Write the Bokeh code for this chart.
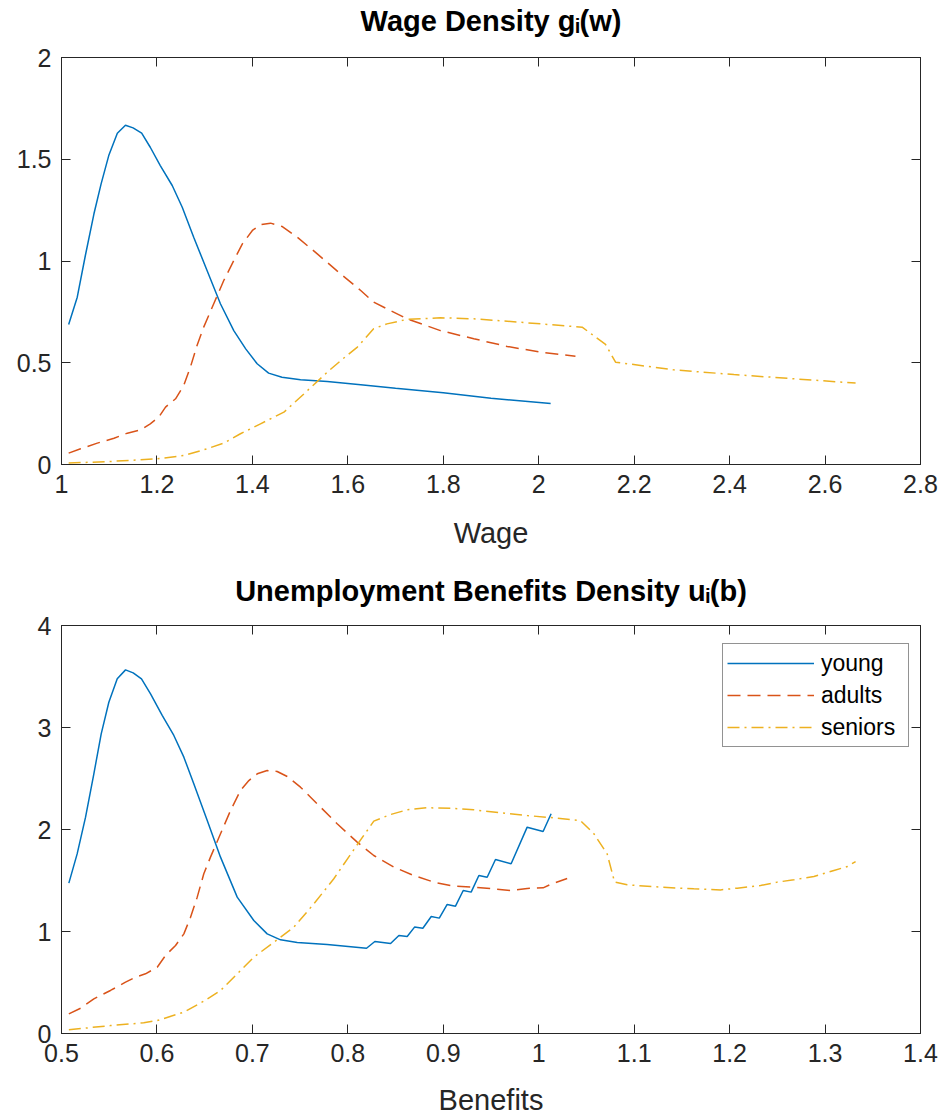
from bokeh.plotting import figure
from bokeh.models import Range1d, LinearAxis, FixedTicker, Legend, LegendItem
from bokeh.layouts import column
from bokeh.embed import file_html
from bokeh.resources import INLINE

# ---------------- data ----------------
wage_young_x = [1.015, 1.033, 1.050, 1.068, 1.083, 1.099, 1.117, 1.134, 1.150, 1.168, 1.186, 1.207,
                1.232, 1.253, 1.277, 1.305, 1.333, 1.361, 1.386, 1.410, 1.434, 1.462, 1.501, 1.557,
                1.627, 1.700, 1.800, 1.900, 2.025]
wage_young_y = [0.688, 0.822, 1.027, 1.232, 1.379, 1.518, 1.628, 1.667, 1.654, 1.628, 1.559, 1.469,
                1.371, 1.264, 1.117, 0.953, 0.790, 0.658, 0.568, 0.495, 0.449, 0.429, 0.416, 0.408,
                0.392, 0.375, 0.352, 0.325, 0.300]

wage_adults_x = [1.015, 1.040, 1.075, 1.110, 1.138, 1.166, 1.186, 1.204, 1.218, 1.239, 1.256, 1.270,
                 1.284, 1.298, 1.319, 1.340, 1.361, 1.379, 1.400, 1.417, 1.438, 1.462, 1.494, 1.536,
                 1.578, 1.627, 1.654, 1.724, 1.794, 1.864, 1.934, 2.004, 2.077]
wage_adults_y = [0.056, 0.077, 0.105, 0.129, 0.154, 0.170, 0.200, 0.233, 0.282, 0.323, 0.388, 0.478,
                 0.585, 0.675, 0.790, 0.904, 1.002, 1.084, 1.150, 1.179, 1.186, 1.170, 1.117, 1.035,
                 0.950, 0.855, 0.798, 0.716, 0.658, 0.618, 0.580, 0.552, 0.532]

wage_seniors_x = [1.015, 1.103, 1.200, 1.256, 1.298, 1.340, 1.375, 1.417, 1.466, 1.508, 1.557, 1.590,
                  1.620, 1.654, 1.682, 1.724, 1.794, 1.864, 1.934, 2.004, 2.091, 2.140, 2.161, 2.283,
                  2.409, 2.664]
wage_seniors_y = [0.007, 0.015, 0.028, 0.044, 0.072, 0.105, 0.151, 0.200, 0.257, 0.347, 0.454, 0.520,
                  0.577, 0.667, 0.691, 0.713, 0.721, 0.716, 0.704, 0.691, 0.675, 0.590, 0.503, 0.465,
                  0.442, 0.400]

ben_young_x = [0.5077, 0.5164, 0.5252, 0.5339, 0.5416, 0.5496, 0.5584, 0.5671, 0.5751, 0.5838, 0.5933,
               0.6055, 0.6177, 0.6282, 0.6386, 0.6527, 0.6666, 0.6841, 0.7015, 0.7155, 0.7295, 0.7470,
               0.7784, 0.8196, 0.8283, 0.8448, 0.8535, 0.8622, 0.8699, 0.8786, 0.8874, 0.8958, 0.9041,
               0.9128, 0.9209, 0.9292, 0.9373, 0.9460, 0.9547, 0.9711, 0.9879, 1.0046, 1.0130]
ben_young_y = [1.474, 1.761, 2.121, 2.546, 2.938, 3.248, 3.477, 3.565, 3.536, 3.477, 3.330,
               3.118, 2.922, 2.709, 2.448, 2.088, 1.729, 1.337, 1.108, 0.977, 0.918, 0.892,
               0.873, 0.836, 0.902, 0.882, 0.961, 0.951, 1.043, 1.032, 1.147, 1.131, 1.265,
               1.248, 1.402, 1.386, 1.549, 1.532, 1.706, 1.664, 2.023, 1.980, 2.154]

ben_adults_x = [0.5077, 0.5200, 0.5339, 0.5513, 0.5671, 0.5775, 0.5880, 0.6003, 0.6090, 0.6195, 0.6282,
                0.6352, 0.6422, 0.6491, 0.6561, 0.6666, 0.6771, 0.6875, 0.6963, 0.7051, 0.7155, 0.7260,
                0.7365, 0.7504, 0.7679, 0.7888, 0.8098, 0.8272, 0.8482, 0.8691, 0.8900, 0.9110, 0.9320,
                0.9529, 0.9704, 0.9879, 1.0046, 1.0123, 1.0298]
ben_adults_y = [0.193, 0.248, 0.340, 0.422, 0.503, 0.552, 0.585, 0.650, 0.765, 0.863, 0.977,
                1.140, 1.337, 1.566, 1.729, 1.958, 2.186, 2.382, 2.480, 2.546, 2.578, 2.569,
                2.520, 2.415, 2.252, 2.056, 1.876, 1.745, 1.631, 1.549, 1.484, 1.444, 1.435,
                1.418, 1.402, 1.422, 1.428, 1.461, 1.520]

ben_seniors_x = [0.5077, 0.5513, 0.5862, 0.6003, 0.6282, 0.6491, 0.6666, 0.6841, 0.7015, 0.7225, 0.7434,
                 0.7644, 0.7853, 0.8098, 0.8272, 0.8448, 0.8622, 0.8832, 0.9079, 0.9320, 0.9600, 0.9879,
                 1.0193, 1.0437, 1.0578, 1.0717, 1.0795, 1.0927, 1.1276, 1.1625, 1.1905, 1.2080, 1.2324,
                 1.2499, 1.2673, 1.2883, 1.3093, 1.3233, 1.3320]
ben_seniors_y = [0.036, 0.078, 0.105, 0.127, 0.209, 0.317, 0.422, 0.585, 0.748, 0.895, 1.042,
                 1.271, 1.517, 1.850, 2.082, 2.147, 2.193, 2.213, 2.209, 2.193, 2.164, 2.137,
                 2.111, 2.088, 1.958, 1.761, 1.484, 1.458, 1.435, 1.418, 1.408, 1.425, 1.451,
                 1.484, 1.507, 1.539, 1.598, 1.637, 1.686]

series_names = ["young", "adults", "seniors"]

wage_xticks = [1.0, 1.2, 1.4, 1.6, 1.8, 2.0, 2.2, 2.4, 2.6, 2.8]
wage_xlabels = ["1", "1.2", "1.4", "1.6", "1.8", "2", "2.2", "2.4", "2.6", "2.8"]
wage_yticks = [0.0, 0.5, 1.0, 1.5, 2.0]
wage_ylabels = ["0", "0.5", "1", "1.5", "2"]

ben_xticks = [0.5, 0.6, 0.7, 0.8, 0.9, 1.0, 1.1, 1.2, 1.3, 1.4]
ben_xlabels = ["0.5", "0.6", "0.7", "0.8", "0.9", "1", "1.1", "1.2", "1.3", "1.4"]
ben_yticks = [0.0, 1.0, 2.0, 3.0, 4.0]
ben_ylabels = ["0", "1", "2", "3", "4"]

# ---------------- styling ----------------
FONT = "Liberation Sans"
AX = "#262626"
COLORS = ["#0072BD", "#D95319", "#EDB120"]
DASHES = ["solid", "13 7", "12 5 2 5"]
LW = 1.5
TICK_FS = "25px"
LABEL_FS = "29px"
TITLE_FS = "29px"


def style_axis(ax, ticks, labels, show_labels=True):
    ax.ticker = FixedTicker(ticks=ticks)
    ax.major_label_overrides = dict(zip(ticks, labels))
    ax.minor_tick_line_color = None
    ax.major_tick_in = 9
    ax.major_tick_out = 0
    ax.major_tick_line_color = AX
    ax.major_tick_line_width = 1
    ax.axis_line_color = AX
    ax.axis_line_width = 1
    ax.major_label_text_font = FONT
    ax.major_label_text_color = AX
    if show_labels:
        ax.major_label_text_font_size = TICK_FS
        ax.major_label_standoff = 10
    else:
        ax.major_label_text_font_size = "0px"
        ax.major_label_standoff = 0
        ax.major_label_text_color = None


def make_fig(title, xr, yr, xticks, xlabels, yticks, ylabels, xlabel, height, mb_top, mb_bottom,
             label_standoff, title_standoff, top_gap):
    p = figure(width=944, height=height, x_range=Range1d(*xr), y_range=Range1d(*yr),
               output_backend="svg", toolbar_location=None,
               min_border_left=61, min_border_right=24,
               min_border_top=mb_top, min_border_bottom=mb_bottom)
    p.xgrid.visible = False
    p.ygrid.visible = False
    p.outline_line_color = AX
    p.outline_line_width = 1
    p.background_fill_color = "white"
    p.border_fill_color = "white"

    style_axis(p.xaxis[0], xticks, xlabels)
    style_axis(p.yaxis[0], yticks, ylabels)
    p.xaxis[0].axis_label = xlabel
    p.xaxis[0].axis_label_text_font = FONT
    p.xaxis[0].axis_label_text_font_size = LABEL_FS
    p.xaxis[0].axis_label_text_font_style = "normal"
    p.xaxis[0].axis_label_text_color = AX
    p.xaxis[0].axis_label_standoff = label_standoff

    # box ticks on top and right (MATLAB "box on")
    top = LinearAxis()
    style_axis(top, xticks, xlabels, show_labels=False)
    p.add_layout(top, "above")
    right = LinearAxis()
    style_axis(right, yticks, ylabels, show_labels=False)
    p.add_layout(right, "right")

    # invisible spacer between frame and title
    spacer = LinearAxis()
    style_axis(spacer, xticks, xlabels, show_labels=False)
    spacer.major_tick_in = 0
    spacer.major_tick_out = top_gap
    spacer.major_tick_line_color = None
    spacer.axis_line_color = None
    p.add_layout(spacer, "above")

    p.title.text = title
    p.title.align = "center"
    p.title.text_font = FONT
    p.title.text_font_size = TITLE_FS
    p.title.text_font_style = "bold"
    p.title.text_color = "black"
    p.title.standoff = title_standoff
    return p


p1 = make_fig("Wage Density gᵢ(w)", (1.0, 2.8), (0.0, 2.0),
              wage_xticks, wage_xlabels, wage_yticks, wage_ylabels, "Wage",
              height=560, mb_top=57, mb_bottom=96, label_standoff=21,
              title_standoff=2, top_gap=20)
for xs, ys, c, d in zip([wage_young_x, wage_adults_x, wage_seniors_x],
                        [wage_young_y, wage_adults_y, wage_seniors_y], COLORS, DASHES):
    p1.line(xs, ys, line_color=c, line_width=LW, line_dash=d)

p2 = make_fig("Unemployment Benefits Density uᵢ(b)", (0.5, 1.4), (0.0, 4.0),
              ben_xticks, ben_xlabels, ben_yticks, ben_ylabels, "Benefits",
              height=558, mb_top=65, mb_bottom=85, label_standoff=19,
              title_standoff=20, top_gap=9)
rs = []
for xs, ys, c, d in zip([ben_young_x, ben_adults_x, ben_seniors_x],
                        [ben_young_y, ben_adults_y, ben_seniors_y], COLORS, DASHES):
    rs.append(p2.line(xs, ys, line_color=c, line_width=LW, line_dash=d))

legend = Legend(items=[LegendItem(label=n, renderers=[r]) for n, r in zip(series_names, rs)],
                location=(661, 286))
legend.border_line_color = AX
legend.border_line_width = 1
legend.background_fill_color = "white"
legend.background_fill_alpha = 1
legend.label_text_font = FONT
legend.label_text_font_size = "23px"
legend.label_text_color = "black"
legend.glyph_width = 87
legend.glyph_height = 30
legend.label_height = 30
legend.label_width = 83
legend.label_standoff = 7
legend.spacing = 2
legend.padding = 4
legend.margin = 0
p2.add_layout(legend)

p = column(p1, p2, spacing=0)
open("out.html", "w").write(file_html(p, INLINE))
